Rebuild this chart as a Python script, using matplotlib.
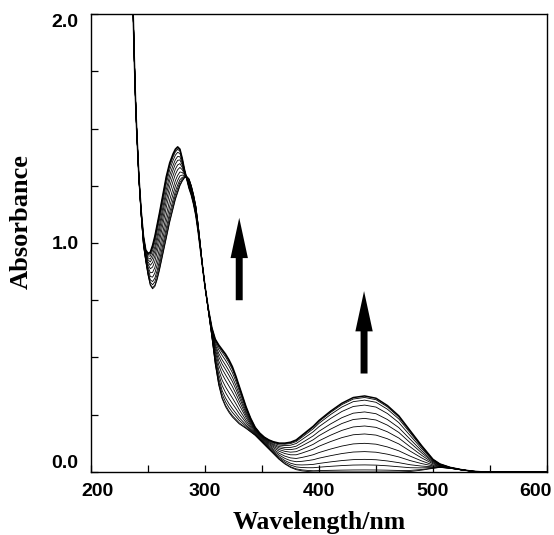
import matplotlib
matplotlib.use("Agg")
import matplotlib.pyplot as plt
from matplotlib.patches import FancyArrowPatch
from matplotlib.ticker import MultipleLocator, FormatStrFormatter
from matplotlib.transforms import ScaledTranslation
import numpy as np

# Wavelength grid (nm)
wavelength = [232, 235, 237, 238, 239, 240, 242, 244, 246, 248, 250, 252, 254, 256, 258,
              260, 263, 266, 269, 272, 274, 276, 278, 280, 282, 284, 286, 288, 290, 292,
              294, 296, 298, 300, 303, 306, 309, 312, 315, 318, 321, 324, 327, 330, 333,
              336, 340, 344, 348, 352, 356, 360, 365, 370, 375, 380, 385, 390, 395, 400,
              410, 420, 430, 440, 450, 460, 470, 480, 490, 500, 506, 515, 525, 535, 545,
              560, 580, 600]

# Initial spectrum (no visible band)
abs_initial = [2.6, 2.25, 2.0, 1.8, 1.63, 1.5, 1.28, 1.12, 0.99, 0.92, 0.86, 0.815, 0.80, 0.81, 0.84,
               0.88, 0.95, 1.02, 1.09, 1.15, 1.19, 1.22, 1.25, 1.27, 1.285, 1.29, 1.28, 1.25, 1.21, 1.16,
               1.08, 0.99, 0.89, 0.81, 0.70, 0.59, 0.47, 0.38, 0.32, 0.285, 0.26, 0.24, 0.225, 0.21, 0.20,
               0.19, 0.175, 0.16, 0.14, 0.12, 0.10, 0.08, 0.055, 0.035, 0.02, 0.01, 0.005, 0.002, 0.0, 0.0,
               0.0, 0.0, 0.0, 0.0, 0.0, 0.0, 0.0, 0.002, 0.008, 0.016, 0.02, 0.016, 0.009, 0.003, 0.0,
               0.0, 0.0, 0.0]

# Final spectrum (full visible band)
abs_final = [2.6, 2.25, 2.0, 1.8, 1.63, 1.5, 1.29, 1.14, 1.03, 0.97, 0.955, 0.96, 0.99, 1.03, 1.08,
             1.13, 1.21, 1.29, 1.35, 1.39, 1.41, 1.42, 1.41, 1.37, 1.32, 1.28, 1.24, 1.21, 1.17, 1.12,
             1.05, 0.97, 0.89, 0.81, 0.71, 0.63, 0.58, 0.555, 0.535, 0.515, 0.49, 0.46, 0.42, 0.375, 0.33,
             0.285, 0.235, 0.195, 0.17, 0.152, 0.14, 0.132, 0.126, 0.126, 0.13, 0.14, 0.16, 0.18, 0.20, 0.225,
             0.265, 0.30, 0.325, 0.332, 0.322, 0.29, 0.245, 0.18, 0.115, 0.055, 0.035, 0.02, 0.01, 0.003, 0.0,
             0.0, 0.0, 0.0]

fractions = [0.0, 0.027, 0.093, 0.166, 0.268, 0.377, 0.50, 0.605, 0.705, 0.79, 0.88, 0.945, 0.98, 1.0]

x_ticks = [200, 300, 400, 500, 600]
y_ticks = [0.0, 1.0, 2.0]

wl = np.array(wavelength, dtype=float)
a0 = np.array(abs_initial)
a1 = np.array(abs_final)

fig = plt.figure(figsize=(5.54, 5.35), dpi=100)
ax = fig.add_axes([0.1643, 0.1178, 0.8231, 0.856])

for i, f in enumerate(fractions):
    spec = a0 + f * (a1 - a0)
    lw = 1.1 if i == len(fractions) - 1 else 0.6
    ax.plot(wl, spec, color="black", lw=lw, solid_joinstyle="round")

ax.set_xlim(200, 600)
ax.set_ylim(0, 2.0)
ax.set_xticks(x_ticks)
ax.set_yticks(y_ticks)
ax.xaxis.set_minor_locator(MultipleLocator(50))
ax.yaxis.set_minor_locator(MultipleLocator(0.25))
ax.yaxis.set_major_formatter(FormatStrFormatter("%.1f"))
ax.tick_params(which="both", direction="in", length=5, width=0.9,
               top=False, right=False)
ax.tick_params(axis="x", pad=8)
ax.tick_params(axis="y", pad=9)
for lab in ax.get_xticklabels() + ax.get_yticklabels():
    lab.set_fontfamily("Liberation Sans")
    lab.set_fontweight("bold")
    lab.set_fontsize(14)
ylabs = ax.get_yticklabels()
ylabs[0].set_va("bottom")
ylabs[-1].set_va("top")
xlabs = ax.get_xticklabels()
xlabs[0].set_transform(xlabs[0].get_transform() + ScaledTranslation(6 / 100, 0, fig.dpi_scale_trans))
xlabs[-1].set_transform(xlabs[-1].get_transform() + ScaledTranslation(-12 / 100, 0, fig.dpi_scale_trans))

for sp in ax.spines.values():
    sp.set_linewidth(1.0)

ax.set_xlabel("Wavelength/nm", fontfamily="Liberation Serif", fontweight="bold", fontsize=18.5)
ax.set_ylabel("Absorbance", fontfamily="Liberation Serif", fontweight="bold", fontsize=19)
ax.xaxis.set_label_coords(0.5, -0.085)
ax.yaxis.set_label_coords(-0.127, 0.546)

# Arrows indicating increase
arrows = [((330, 0.75), (330, 1.11)), ((439.5, 0.43), (439.5, 0.79))]
for start, end in arrows:
    ar = FancyArrowPatch(start, end,
                         arrowstyle="simple,head_length=29,head_width=12.5,tail_width=5",
                         mutation_scale=1, shrinkA=0, shrinkB=0,
                         color="black", lw=0)
    ax.add_patch(ar)

fig.savefig("out.png", dpi=100)
